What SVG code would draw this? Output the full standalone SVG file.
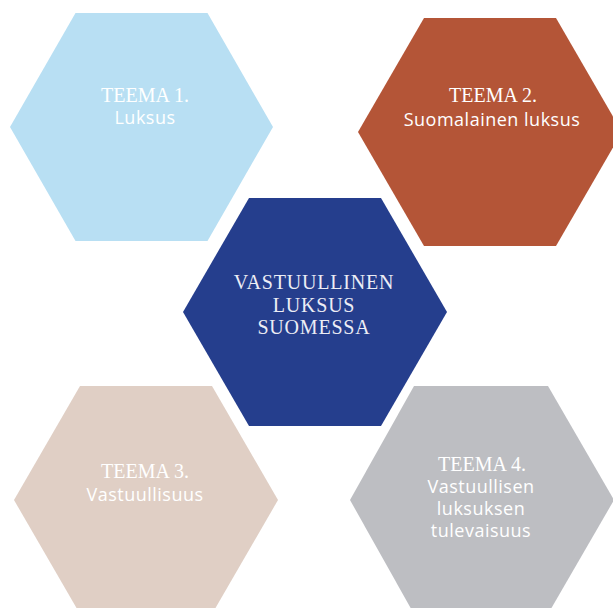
<svg xmlns="http://www.w3.org/2000/svg" width="613" height="608" viewBox="0 0 613 608">
<style>
.serif{font-family:"Liberation Serif","DejaVu Serif",serif;font-size:20px;text-anchor:middle;fill:#ffffff}
.big{letter-spacing:0.8px;fill:#ECEDF5}
.sans{font-family:"Open Sans","Noto Sans","Liberation Sans",sans-serif;font-size:18px;letter-spacing:0.5px;text-anchor:middle;fill:#ffffff}
</style>
<rect width="613" height="608" fill="#ffffff"/>
<g id="teema1">
<polygon points="10,127 75.5,13 207.5,13 273,127 207.5,241 75.5,241" fill="#B8DFF3"/>
<text class="serif" x="145" y="102">TEEMA 1.</text>
<text class="sans" x="145" y="124">Luksus</text>
</g>
<g id="teema2">
<polygon points="358,132 424,18 556,18 622,132 556,246 424,246" fill="#B45537"/>
<text class="serif" x="493" y="102">TEEMA 2.</text>
<text class="sans" x="492" y="126">Suomalainen luksus</text>
</g>
<g id="center">
<polygon points="183,312 249,198 381,198 447,312 381,426 249,426" fill="#253E8D"/>
<text class="serif big" x="314" y="289">VASTUULLINEN</text>
<text class="serif big" x="314" y="311.5">LUKSUS</text>
<text class="serif big" x="314" y="334">SUOMESSA</text>
</g>
<g id="teema3">
<polygon points="14,500 80,386 212,386 278,500 212,614 80,614" fill="#E0CFC5"/>
<text class="serif" x="145" y="478">TEEMA 3.</text>
<text class="sans" x="145" y="501">Vastuullisuus</text>
</g>
<g id="teema4">
<polygon points="350,500 414,386 548,386 614,500 548,614 414,614" fill="#BDBEC2"/>
<text class="serif" x="482" y="471">TEEMA 4.</text>
<text class="sans" x="481" y="493">Vastuullisen</text>
<text class="sans" x="481" y="515">luksuksen</text>
<text class="sans" x="481" y="537">tulevaisuus</text>
</g>
<g id="connectors"/>
</svg>
